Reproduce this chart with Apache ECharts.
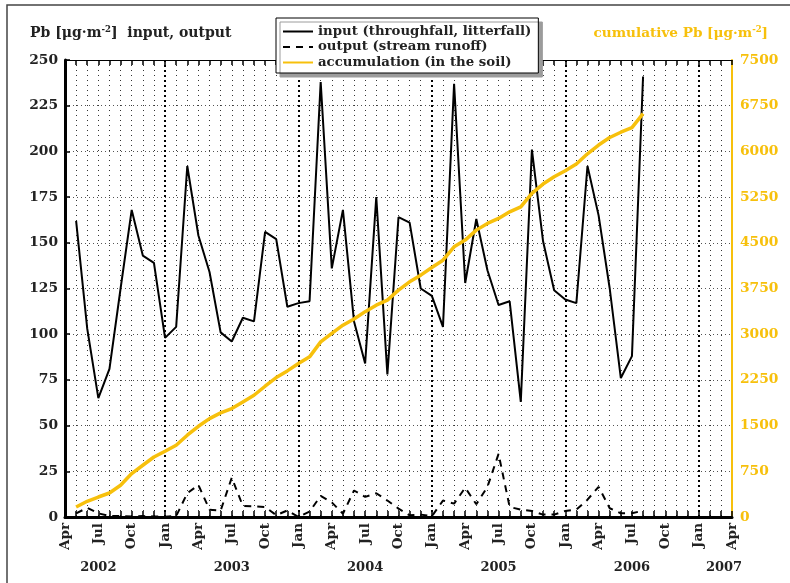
<!DOCTYPE html>
<html>
<head>
<meta charset="utf-8">
<script src="https://cdn.jsdelivr.net/npm/echarts@6/dist/echarts.min.js"></script>
<style>
  html, body { margin: 0; padding: 0; background: #fff; }
  #chart { width: 790px; height: 583px; }
</style>
</head>
<body>
<div id="chart"></div>
<script>
// Monthly time axis, Apr 2002 .. Apr 2007
const monthNames = ['Jan', 'Feb', 'Mar', 'Apr', 'May', 'Jun', 'Jul', 'Aug', 'Sep', 'Oct', 'Nov', 'Dec'];
const categories = [];
for (let k = 0; k <= 60; k++) {
  const t = 3 + k;
  categories.push(monthNames[t % 12] + ' ' + (2002 + Math.floor(t / 12)));
}
// first month with measurements
const firstMonth = 'May 2002';

// Pb input (throughfall + litterfall), µg·m-2 per month
const inputPb = [162, 103, 65, 81, 125, 168, 143, 139, 98, 104, 192, 154, 134, 101, 96, 109, 107, 156, 152, 115,
  117, 118, 238, 136, 168, 107, 84, 175, 78, 164, 161, 125, 121, 104, 237, 128, 163, 135, 116, 118,
  63, 201, 151, 124, 119, 117, 192, 165, 125, 76, 88, 241];
// Pb output (stream runoff), µg·m-2 per month
const outputPb = [2, 5, 2, 0.5, 0.5, 0.3, 0.5, 0.3, 0.2, 0.5, 13, 17.5, 4, 3.5, 21.5, 6, 5.8, 5.5, 1, 3.6,
  0, 3, 11.5, 8, 1.8, 14.5, 11, 13, 9, 4.6, 0.9, 1.3, 0.4, 9, 7.3, 16, 7, 16.5, 34.5, 5.5,
  4, 3.3, 1.3, 1.3, 3.3, 4, 9.5, 16.5, 4.8, 2, 2, 3.5];
// cumulative Pb accumulated in the soil, µg·m-2
const accumPb = [164, 258, 328, 394, 521, 713, 849, 985, 1079, 1177, 1342, 1489, 1615, 1708, 1780, 1889, 1998, 2146, 2289, 2398,
  2519, 2628, 2874, 3012, 3148, 3250, 3370, 3476, 3559, 3723, 3859, 3969, 4095, 4215, 4434, 4544, 4708, 4818, 4900, 5009,
  5091, 5311, 5464, 5584, 5682, 5792, 5960, 6104, 6228, 6315, 6390, 6620];

const seriesNames = ['input (throughfall, litterfall)', 'output (stream runoff)', 'accumulation (in the soil)'];

const FONT = 'DejaVu Serif';
const GOLD = '#F7C00C';
const INK = '#222';

const start = categories.indexOf(firstMonth);
const toPairs = arr => arr.map((v, k) => [categories[start + k], v]);

const boldText = (size, color) => ({ fontFamily: FONT, fontWeight: 'bold', fontSize: size, color: color });

const chart = echarts.init(document.getElementById('chart'), null, { renderer: 'canvas' });

chart.setOption({
  animation: false,
  backgroundColor: '#fff',
  graphic: [{
    type: 'rect', silent: true, z: -10,
    shape: { x: 7, y: 5, width: 820, height: 620 },
    style: { fill: null, stroke: '#444', lineWidth: 1.5 }
  }],
  title: [{
    text: 'Pb [μg·m{sup|-2}]  input, output',
    left: 30, top: 25, padding: 0,
    textStyle: Object.assign(boldText(14, INK), {
      rich: { sup: Object.assign(boldText(8.5, INK), { padding: [0, 0, 7, 0] }) }
    })
  }, {
    text: 'cumulative Pb [μg·m{sup|-2}]',
    right: 22, top: 25, padding: 0,
    textStyle: Object.assign(boldText(13.6, GOLD), {
      rich: { sup: Object.assign(boldText(8.5, GOLD), { padding: [0, 0, 7, 0] }) }
    })
  }],
  legend: {
    orient: 'vertical', left: 276, top: 18,
    padding: [7, 7, 4, 6], itemGap: 2.5, itemWidth: 30, itemHeight: 14,
    backgroundColor: '#fff', borderColor: '#000', borderWidth: 1, borderRadius: 0,
    shadowColor: '#9c9c9c', shadowBlur: 0, shadowOffsetX: 4, shadowOffsetY: 4,
    itemStyle: { color: 'rgba(0,0,0,0)', borderWidth: 0, opacity: 0 },
    textStyle: boldText(13.3, INK),
    data: seriesNames
  },
  grid: { left: 65, right: 58, top: 60, bottom: 66 },
  xAxis: [{
    type: 'category', data: categories, boundaryGap: false, position: 'bottom',
    axisLine: { lineStyle: { color: '#000', width: 3 } },
    axisTick: { inside: true, length: 6, interval: 0, lineStyle: { color: '#000', width: 1.5 } },
    axisLabel: Object.assign(boldText(13.5, INK), {
      interval: 2, rotate: 90, margin: 6,
      formatter: v => v.split(' ')[0]
    }),
    splitLine: { show: true, interval: 0, lineStyle: { color: '#333', width: 1, type: [1, 4] } }
  }, {
    // year row under the month labels
    type: 'category', data: categories, boundaryGap: false, position: 'bottom', offset: 38,
    axisLine: { show: false }, axisTick: { show: false }, splitLine: { show: false },
    axisLabel: Object.assign(boldText(13, INK), {
      interval: 0, margin: 6,
      formatter: (v, i) => {
        const [m, y] = v.split(' ');
        if (i === categories.length - 1) return '{last|' + y + '}';
        return m === 'Jul' ? y : '';
      },
      rich: { last: Object.assign(boldText(13, INK), { padding: [0, 16, 0, 0] }) }
    })
  }, {
    // top frame with month ticks and the year boundaries
    type: 'category', data: categories, boundaryGap: false, position: 'top',
    axisLine: { lineStyle: { color: '#000', width: 1 } },
    axisTick: { inside: true, length: 5, interval: 0, lineStyle: { color: '#000', width: 1.5 } },
    axisLabel: { show: false },
    splitLine: {
      show: true,
      interval: (i, v) => v.indexOf('Jan') === 0,
      lineStyle: { color: '#000', width: 2, type: [2, 3] }
    }
  }],
  yAxis: [{
    type: 'value', min: 0, max: 250, interval: 25, position: 'left',
    axisLine: { show: true, lineStyle: { color: '#000', width: 3 } },
    axisTick: { show: true, inside: true, length: 5, lineStyle: { color: '#000', width: 1.5 } },
    axisLabel: Object.assign(boldText(13.8, INK), { margin: 7 }),
    splitLine: { show: true, lineStyle: { color: '#555', width: 1, type: [1, 3] } }
  }, {
    type: 'value', min: 0, max: 7500, interval: 750, position: 'right',
    axisLine: { show: true, lineStyle: { color: GOLD, width: 2 } },
    axisTick: { show: false },
    axisLabel: Object.assign(boldText(13.8, GOLD), { margin: 8, formatter: v => String(v) }),
    splitLine: { show: false }
  }],
  series: [{
    name: seriesNames[0], type: 'line', xAxisIndex: 0, yAxisIndex: 0,
    data: toPairs(inputPb), symbol: 'none', color: '#000',
    lineStyle: { color: '#000', width: 2 }, z: 3
  }, {
    name: seriesNames[1], type: 'line', xAxisIndex: 0, yAxisIndex: 0,
    data: toPairs(outputPb), symbol: 'none', color: '#000',
    lineStyle: { color: '#000', width: 2, type: [7, 6] }, z: 3
  }, {
    name: seriesNames[2], type: 'line', xAxisIndex: 0, yAxisIndex: 1,
    data: toPairs(accumPb), symbol: 'none', color: GOLD,
    lineStyle: { color: GOLD, width: 3.5 }, z: 4
  }]
});
</script>
</body>
</html>
